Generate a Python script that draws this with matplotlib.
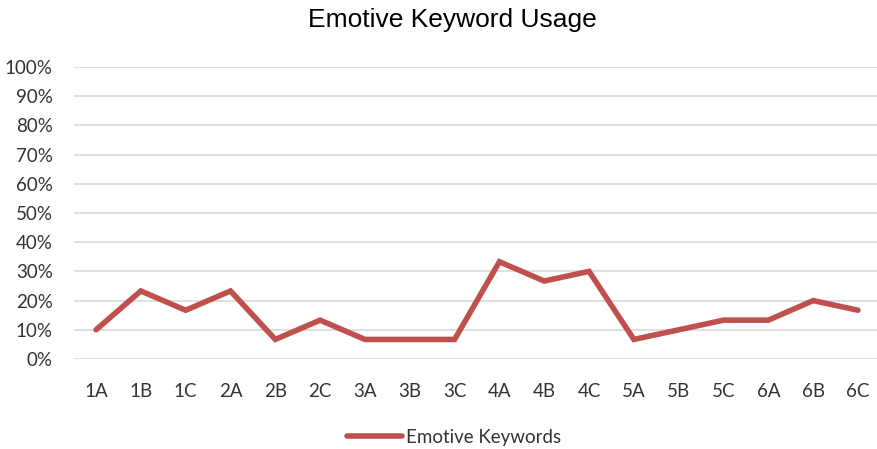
import matplotlib
matplotlib.use("Agg")
import matplotlib.pyplot as plt
from matplotlib.ticker import PercentFormatter

categories = ["1A", "1B", "1C", "2A", "2B", "2C", "3A", "3B", "3C",
              "4A", "4B", "4C", "5A", "5B", "5C", "6A", "6B", "6C"]
emotive = [0.100, 0.233, 0.167, 0.233, 0.067, 0.133, 0.067, 0.067, 0.067,
           0.333, 0.267, 0.300, 0.067, 0.100, 0.133, 0.133, 0.200, 0.167]
series_name = "Emotive Keywords"
title = "Emotive Keyword Usage"

W, H = 877, 449
fig = plt.figure(figsize=(W / 100, H / 100), dpi=100)
ax = fig.add_axes([73.6 / W, 90 / H, 806.8 / W, 292 / H])

label_font = "Lato"
x = list(range(len(categories)))
ax.plot(x, emotive, color="#c0504d", lw=4.0, solid_joinstyle="miter",
        solid_capstyle="round", label=series_name, zorder=3)

ax.set_xlim(-0.5, len(categories) - 0.5)
ax.set_ylim(0, 1)
ax.set_yticks([i / 10 for i in range(11)])
ax.yaxis.set_major_formatter(PercentFormatter(1.0, decimals=0))
ax.set_xticks(x)
ax.set_xticklabels(categories)
ax.grid(axis="y", color="#d9d9d9", lw=1.2)
ax.set_axisbelow(True)
for s in ax.spines.values():
    s.set_visible(False)
ax.tick_params(axis="both", length=0, labelsize=13.5, colors="#333333")
ax.tick_params(axis="y", pad=15)
ax.tick_params(axis="x", pad=17)
for t in ax.get_xticklabels() + ax.get_yticklabels():
    t.set_fontfamily(label_font)

fig.text(452 / W, 1 - 20 / H, title, ha="center", va="center",
         fontsize=19, family="Liberation Sans", color="#000000")

leg = fig.legend(loc="center", bbox_to_anchor=(454 / W, 1 - 437 / H),
                 frameon=False, handlelength=2.9, handletextpad=0.2,
                 prop={"family": label_font, "size": 13.5})
for t in leg.get_texts():
    t.set_color("#333333")

fig.savefig("out.png", dpi=100)
